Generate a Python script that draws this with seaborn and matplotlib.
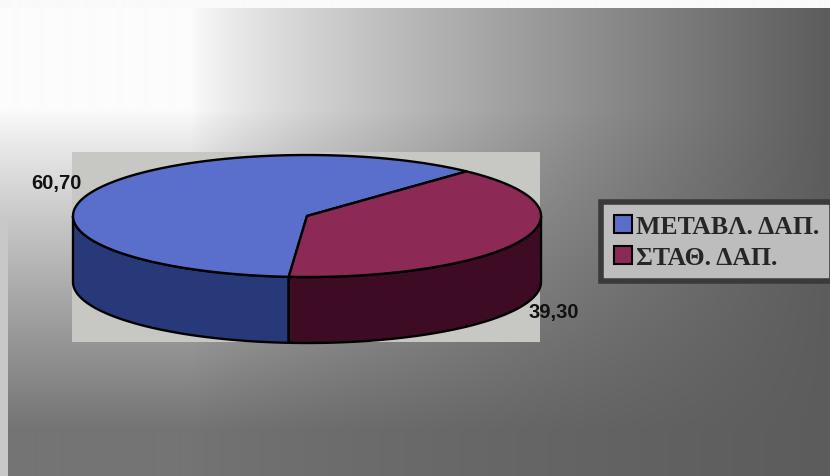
import numpy as np
import matplotlib
matplotlib.use("Agg")
import matplotlib.pyplot as plt
from matplotlib.patches import Polygon, Rectangle, Patch
import seaborn as sns

# ---- data ----
categories = ["ΜΕΤΑΒΛ. ΔΑΠ.", "ΣΤΑΘ. ΔΑΠ."]
values = [60.70, 39.30]
value_labels = ["60,70", "39,30"]

sns.set_theme(style="white")
plt.rcParams["font.family"] = ["Liberation Sans", "DejaVu Sans"]

top_colors = sns.color_palette(["#5a6ecc", "#8c2a55"])
side_colors = sns.color_palette(["#28397a", "#3d0b24"])

W, H = 830, 477
fig = plt.figure(figsize=(W / 100, H / 100), dpi=100)
ax = fig.add_axes([0, 0, 1, 1])
ax.set_xlim(0, W)
ax.set_ylim(H, 0)
ax.axis("off")

# ---- background gradient ----
xx, yy = np.meshgrid(np.arange(W), np.arange(H))
h = np.clip((xx - 190) / 640, 0, 1) ** 0.8
v = np.clip((yy - 110) / 320, 0, 1) ** 0.9
t = 1 - (1 - h) * (1 - 0.85 * v)
g = 252 - 160 * t
g[yy < 9] = 250
strip = (xx < 8) & (yy > 130)
g[strip] = np.maximum(g[strip], 200)
bg = np.dstack([g, g, g]) / 255.0
ax.imshow(bg, extent=(0, W, H, 0), aspect="auto", zorder=0, interpolation="bilinear")

# ---- plot area ----
ax.add_patch(Rectangle((72, 153), 468, 190, facecolor="#c7c7c4", edgecolor="none", zorder=1))

# ---- 3D pie ----
cx, cy, rx, ry, depth = 307, 217, 234, 61, 66
start = 47.0
total = sum(values)
angles = [start]
for val in values:
    angles.append(angles[-1] + 360.0 * val / total)

def pt(theta_deg, dz=0.0):
    t_ = np.radians(theta_deg)
    return cx + rx * np.cos(t_), cy - ry * np.sin(t_) + dz

# sides (visible front half: 180..360)
for i in range(len(values)):
    a0, a1 = angles[i], angles[i + 1]
    segs = []
    for off in (0, 360, -360):
        lo = max(a0 + off, 180)
        hi = min(a1 + off, 360)
        if hi > lo:
            segs.append((lo, hi))
    for lo, hi in segs:
        th = np.linspace(lo, hi, 100)
        top = [pt(a) for a in th]
        bot = [pt(a, depth) for a in th[::-1]]
        ax.add_patch(Polygon(top + bot, closed=True, facecolor=side_colors[i],
                             edgecolor="black", linewidth=1.7, zorder=2))

# tops
for i in range(len(values)):
    th = np.linspace(angles[i], angles[i + 1], 200)
    verts = [(cx, cy)] + [pt(a) for a in th]
    ax.add_patch(Polygon(verts, closed=True, facecolor=top_colors[i],
                         edgecolor="black", linewidth=1.7, zorder=3))

# value labels
label_pos = [(56, 184), (554, 313)]
for (x, y), lab in zip(label_pos, value_labels):
    ax.text(x, y, lab, fontsize=14.5, fontweight="bold", color="#111111",
            ha="center", va="center", zorder=5)

# ---- legend ----
handles = [Patch(facecolor=top_colors[i], edgecolor="black", linewidth=1.5, label=categories[i])
           for i in range(len(values))]
leg = fig.legend(handles=handles, loc="upper left",
                 bbox_to_anchor=(601 / W, 1 - 203 / H),
                 frameon=True, fancybox=False, framealpha=1,
                 prop={"family": ["Liberation Serif", "DejaVu Serif"], "weight": "bold", "size": 18.5},
                 handlelength=0.7, handleheight=0.7, handletextpad=0.15,
                 labelspacing=0.3, borderpad=0.5, borderaxespad=0)
leg.get_frame().set_facecolor("#bdbdbd")
leg.get_frame().set_edgecolor("#3a3a3a")
leg.get_frame().set_linewidth(4)

fig.savefig("out.png", dpi=100)
